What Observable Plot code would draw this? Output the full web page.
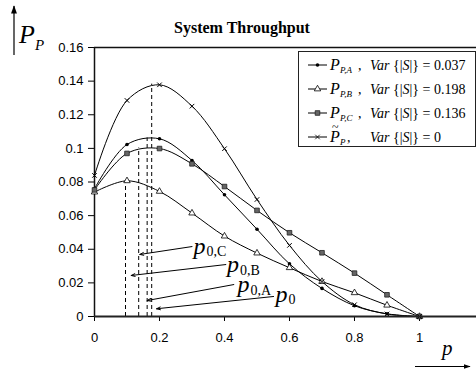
<!DOCTYPE html>
<html><head><meta charset="utf-8">
<script src="https://cdn.jsdelivr.net/npm/d3@7"></script>
<script src="https://cdn.jsdelivr.net/npm/@observablehq/plot@0.6"></script>
<style>body{margin:0;background:#fff} #chart svg{display:block}</style>
</head><body><div id="chart"></div>
<script>
// ---- data ----
const pValues = [0, 0.1, 0.2, 0.3, 0.4, 0.5, 0.6, 0.7, 0.8, 0.9, 1.0];
const seriesA = [0.0760, 0.1023, 0.1057, 0.0928, 0.0724, 0.0519, 0.0313, 0.0167, 0.0064, 0.0016, 0];
const seriesB = [0.0740, 0.0807, 0.0744, 0.0615, 0.0478, 0.0377, 0.0290, 0.0208, 0.0141, 0.0067, 0];
const seriesC = [0.0753, 0.0970, 0.0999, 0.0908, 0.0773, 0.0631, 0.0498, 0.0379, 0.0258, 0.0129, 0];
const seriesT = [0.0839, 0.1285, 0.1378, 0.1251, 0.0998, 0.0696, 0.0423, 0.0208, 0.0070, 0.0015, 0];
const seriesNames = ["A", "B", "C", "T"];
const varValues = ["0.037", "0.198", "0.136", "0"];
const xTicks = [0, 0.2, 0.4, 0.6, 0.8, 1];
const yTicks = [0, 0.02, 0.04, 0.06, 0.08, 0.1, 0.12, 0.14, 0.16];
// optimum p (dashed lines) per series
const peakX = [0.162, 0.0954, 0.136, 0.176];
const peakY = [0.1062, 0.0808, 0.1002, 0.1382];
// annotation labels and arrows
const annSub = ["0,C", "0,B", "0,A", "0"];
const annX = [0.3046, 0.408, 0.44, 0.557];
const annY = [0.042, 0.0309, 0.019, 0.0131];
const arrX1 = [0.300, 0.404, 0.4286, 0.551];
const arrY1 = [0.0416, 0.0309, 0.019, 0.0119];
const arrX2 = [0.1394, 0.113, 0.162, 0.191];
const arrY2 = [0.0369, 0.0244, 0.0095, 0.0046];

const allSeries = [seriesA, seriesB, seriesC, seriesT];
const data = [];
allSeries.forEach((vals, i) => vals.forEach((v, j) => data.push({series: seriesNames[i], p: pValues[j], v})));
const peaks = peakX.map((x, i) => ({x, y: peakY[i]}));
const ann = annSub.map((s, i) => ({sub: s, x: annX[i], y: annY[i], x1: arrX1[i], y1: arrY1[i], x2: arrX2[i], y2: arrY2[i]}));
const bySeries = s => data.filter(d => d.series === s);

const serif = "'Liberation Serif', 'Times New Roman', serif";

const chart = Plot.plot({
  width: 476, height: 369,
  marginLeft: 94, marginRight: 0, marginTop: 47, marginBottom: 53,
  style: {fontFamily: "'Liberation Sans', Arial, sans-serif", fontSize: "13px", background: "white", color: "black", overflow: "visible"},
  x: {domain: [0, 1.1754], ticks: xTicks, tickFormat: d => String(d), tickSize: 5, tickPadding: 11, label: null},
  y: {domain: [0, 0.16], ticks: yTicks, tickFormat: d => String(+d.toFixed(2)), tickSize: 6, tickPadding: 5, label: null},
  marks: [
    Plot.ruleY([0.16], {stroke: "#111", strokeWidth: 1.5}),
    Plot.ruleX([0], {stroke: "#111", strokeWidth: 1.5}),
    Plot.ruleX(peaks, {x: "x", y1: 0, y2: "y", stroke: "black", strokeWidth: 1, strokeDasharray: "4,3"}),
    Plot.line(data, {x: "p", y: "v", z: "series", curve: "catmull-rom", stroke: "black", strokeWidth: 1}),
    Plot.dot(bySeries("A"), {x: "p", y: "v", r: 1.8, fill: "black", stroke: "none"}),
    Plot.dot(bySeries("B"), {x: "p", y: "v", symbol: "triangle", r: 2.4, fill: "white", stroke: "black", strokeWidth: 0.8}),
    Plot.dot(bySeries("C"), {x: "p", y: "v", symbol: "square", r: 2.6, fill: "#666", stroke: "#222", strokeWidth: 0.8}),
    Plot.dot(bySeries("T"), {x: "p", y: "v", symbol: "times", r: 2.2, stroke: "black", strokeWidth: 1}),
    Plot.ruleY([0], {stroke: "#222", strokeWidth: 2}),
    Plot.arrow(ann, {x1: "x1", y1: "y1", x2: "x2", y2: "y2", stroke: "black", strokeWidth: 1, headLength: 6, headAngle: 40}),
    Plot.text(ann, {x: "x", y: "y", text: () => "p", textAnchor: "start", fontSize: 24, fontStyle: "italic", fontFamily: serif, fill: "black"}),
    Plot.text(ann, {x: "x", y: "y", text: "sub", textAnchor: "start", fontSize: 14, fontFamily: serif, fill: "black", dx: 13, dy: 5.5})
  ]
});
document.getElementById("chart").appendChild(chart);

// ---- title, axis labels and legend ----
const svg = d3.select(chart);
const g = svg.append("g").attr("font-family", serif).attr("fill", "black").attr("text-anchor", "start");
g.append("text").attr("x", 242).attr("y", 33).attr("text-anchor", "middle")
  .attr("font-weight", "bold").attr("font-size", 16).text("System Throughput");

svg.append("defs").html('<marker id="ah" viewBox="0 0 10 10" refX="9" refY="5" markerWidth="7" markerHeight="7" orient="auto"><path d="M0,1.5L10,5L0,8.5z" fill="black"/></marker>');
// y label
g.append("line").attr("x1", 14).attr("x2", 14).attr("y1", 55).attr("y2", 6).attr("stroke", "black").attr("stroke-width", 1.2).attr("marker-end", "url(#ah)");
g.append("text").attr("x", 19).attr("y", 43).attr("font-size", 26).attr("font-style", "italic").text("P");
g.append("text").attr("x", 35).attr("y", 50).attr("font-size", 15).attr("font-style", "italic").text("P");
// x label
g.append("text").attr("x", 442).attr("y", 355).attr("font-size", 21).attr("font-style", "italic").text("p");
g.append("line").attr("x1", 415).attr("x2", 470).attr("y1", 366.5).attr("y2", 366.5).attr("stroke", "black").attr("stroke-width", 1).attr("marker-end", "url(#ah)");

// legend
const lg = g.append("g");
lg.append("rect").attr("x", 298.5).attr("y", 51.5).attr("width", 177).attr("height", 95)
  .attr("fill", "white").attr("stroke", "#222").attr("stroke-width", 1);
const rowY = [65, 89, 113, 137];
const subs = ["P,A", "P,B", "P,C", "P"];
const syms = [
  {type: d3.symbolCircle, r: 1.8, fill: "black", stroke: "none"},
  {type: d3.symbolTriangle, r: 2.4, fill: "white", stroke: "black"},
  {type: d3.symbolSquare, r: 2.6, fill: "#666", stroke: "#222"},
  {type: d3.symbolTimes, r: 2.2, fill: "none", stroke: "black"}
];
rowY.forEach((y, i) => {
  lg.append("line").attr("x1", 308).attr("x2", 327).attr("y1", y).attr("y2", y).attr("stroke", "black").attr("stroke-width", 1);
  const s = syms[i];
  lg.append("path").attr("transform", `translate(317.5,${y})`)
    .attr("d", d3.symbol(s.type, s.r * s.r * Math.PI)())
    .attr("fill", s.fill).attr("stroke", s.stroke).attr("stroke-width", 0.8);
  const base = y + 5;
  lg.append("text").attr("x", 330).attr("y", base).attr("font-size", 16).attr("font-style", "italic").text("P");
  if (i === 3) lg.append("text").attr("x", 332).attr("y", base - 11).attr("font-size", 12).text("~");
  lg.append("text").attr("x", 340).attr("y", base + 3).attr("font-size", 9).attr("font-style", "italic").text(subs[i]);
  lg.append("text").attr("x", i === 3 ? 347 : 358).attr("y", base).attr("font-size", 14).text(",");
  const v = lg.append("text").attr("x", 370).attr("y", base).attr("font-size", 14);
  v.append("tspan").attr("font-style", "italic").text("Var");
  v.append("tspan").text(" {|");
  v.append("tspan").attr("font-style", "italic").text("S");
  v.append("tspan").text("|} = " + varValues[i]);
});
</script>
</body></html>
